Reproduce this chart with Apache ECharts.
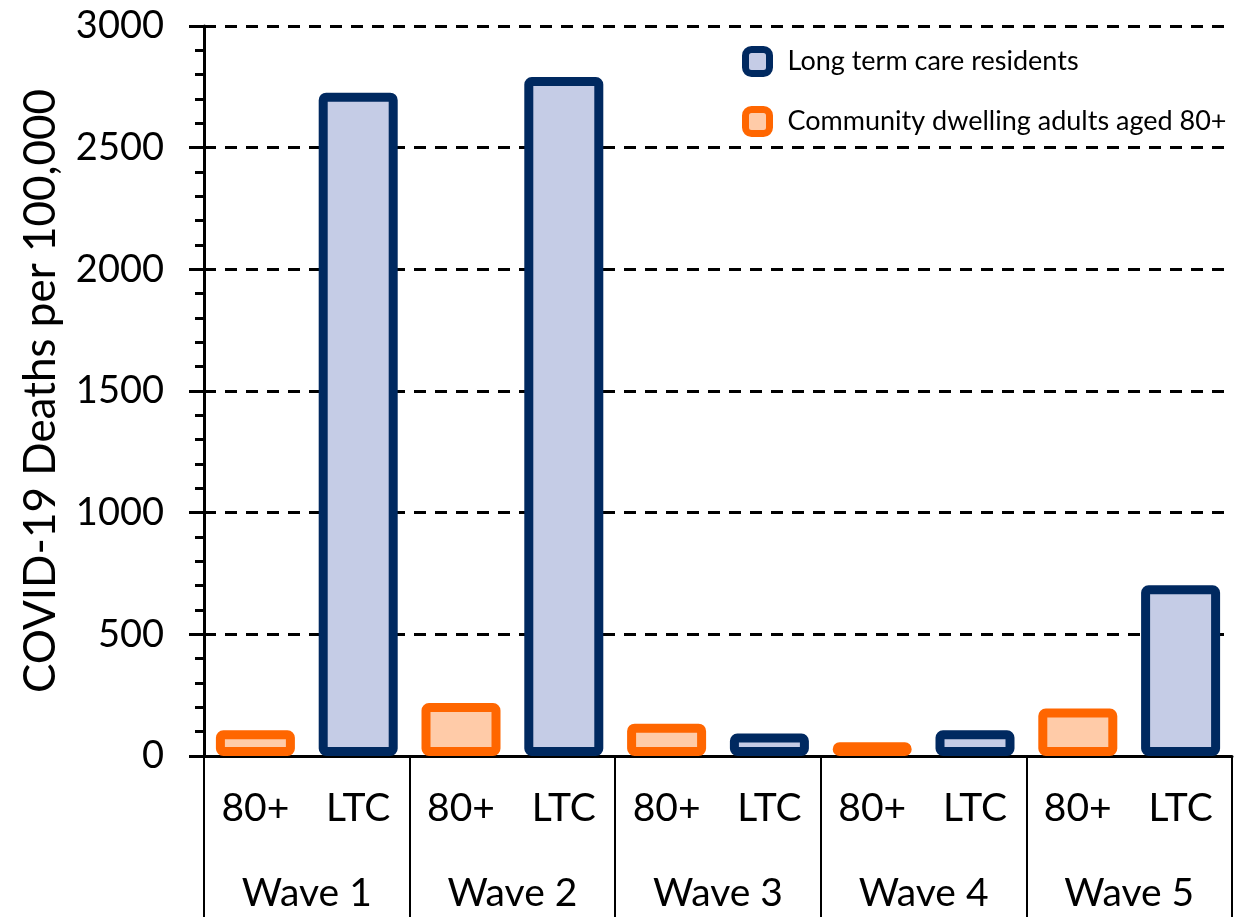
<!DOCTYPE html>
<html>
<head>
<meta charset="utf-8">
<title>COVID-19 deaths per 100,000</title>
<script src="https://cdn.jsdelivr.net/npm/echarts@6/dist/echarts.min.js"></script>
<style>
	html, body { margin: 0; padding: 0; background: #fff; }
	#chart { width: 1236px; height: 917px; }
</style>
</head>
<body>
<div id="chart"></div>
<script>
// data
var waves = ['Wave 1', 'Wave 2', 'Wave 3', 'Wave 4', 'Wave 5'];
var groups = ['80+', 'LTC'];
var community80 = [106, 218, 133, 56, 195];
var ltcResidents = [2726, 2790, 92, 106, 702];
var yTicks = [0, 500, 1000, 1500, 2000, 2500, 3000];

var FONT = 'Lato';

// one slot per bar: 80+, LTC, 80+, LTC ...
var slots = [];
var orangeData = [];
var navyData = [];
for (var i = 0; i < waves.length; i++) {
	slots.push(groups[0]);
	slots.push(groups[1]);
	orangeData.push(community80[i]);
	orangeData.push('-');
	navyData.push('-');
	navyData.push(ltcResidents[i]);
}

var myChart = echarts.init(document.getElementById('chart'));
var option = {
	animation: false,
	backgroundColor: '#ffffff',
	grid: {
		left: 204,
		right: 4,
		top: 26,
		bottom: 161
	},
	legend: {
		orient: 'vertical',
		left: 737,
		top: 41,
		itemWidth: 24,
		itemHeight: 24,
		itemGap: 29,
		icon: 'roundRect',
		data: ['Long term care residents', 'Community dwelling adults aged 80+'],
		itemStyle: { borderWidth: 7 },
		textStyle: {
			fontFamily: FONT,
			fontSize: 27,
			color: '#000',
			padding: [0, 0, 0, 13]
		}
	},
	xAxis: [
		{
			type: 'category',
			data: slots,
			position: 'bottom',
			axisLine: { lineStyle: { color: '#000', width: 3 } },
			axisTick: { show: false },
			axisLabel: {
				margin: 33,
				fontFamily: FONT,
				fontSize: 39,
				color: '#000'
			}
		},
		{
			type: 'category',
			data: waves,
			position: 'bottom',
			axisLine: { show: false },
			axisTick: {
				show: true,
				length: 165,
				lineStyle: { color: '#000', width: 2 }
			},
			axisLabel: {
				margin: 118,
				fontFamily: FONT,
				fontSize: 39,
				color: '#000'
			}
		}
	],
	yAxis: {
		type: 'value',
		min: yTicks[0],
		max: yTicks[yTicks.length - 1],
		interval: 500,
		name: 'COVID-19 Deaths per 100,000',
		nameLocation: 'middle',
		nameGap: 141,
		nameTextStyle: {
			fontFamily: FONT,
			fontSize: 44,
			color: '#000'
		},
		axisLine: { show: true, lineStyle: { color: '#000', width: 3 } },
		axisTick: { show: true, length: 15, lineStyle: { color: '#000', width: 3 } },
		minorTick: { show: true, splitNumber: 5, length: 9, lineStyle: { color: '#000', width: 3 } },
		axisLabel: {
			margin: 40,
			fontFamily: FONT,
			fontSize: 38,
			color: '#000',
			formatter: function (v) { return String(v); }
		},
		splitLine: {
			show: true,
			lineStyle: { color: '#000', width: 3, type: [12, 9] }
		}
	},
	series: [
		{
			name: 'Community dwelling adults aged 80+',
			type: 'bar',
			xAxisIndex: 0,
			barWidth: 79,
			barGap: '-100%',
			data: orangeData,
			itemStyle: {
				color: '#ffcba8',
				borderColor: '#ff6600',
				borderWidth: 9,
				borderRadius: 3
			}
		},
		{
			name: 'Long term care residents',
			type: 'bar',
			xAxisIndex: 0,
			barWidth: 79,
			barGap: '-100%',
			data: navyData,
			itemStyle: {
				color: '#c5cce6',
				borderColor: '#002960',
				borderWidth: 9,
				borderRadius: 3
			}
		}
	]
};
myChart.setOption(option);
</script>
</body>
</html>
